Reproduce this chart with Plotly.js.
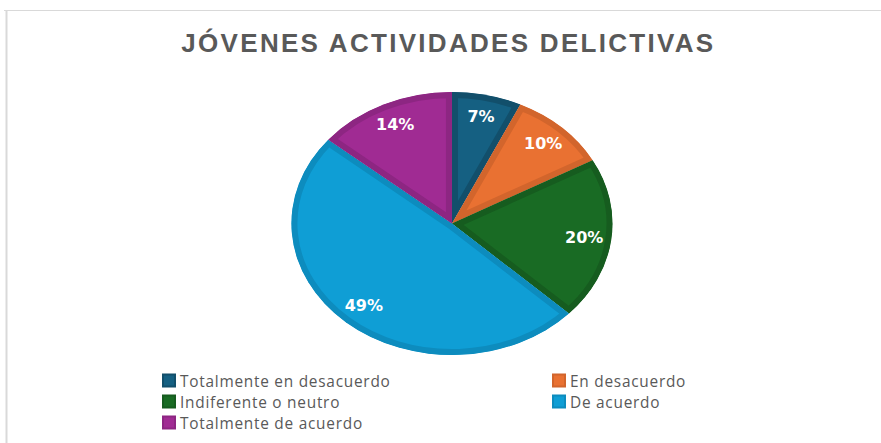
<!DOCTYPE html>
<html>
<head>
<meta charset="utf-8">
<script src="https://cdn.plot.ly/plotly-3.0.1.min.js"></script>
<style>
  html, body { margin: 0; padding: 0; background: #ffffff; }
  #chart { width: 881px; height: 443px; }
  .gtitle { letter-spacing: 2.3px; }
  .legendtext { letter-spacing: 0.75px; }
</style>
</head>
<body>
<div id="chart"></div>
<script>
// ---- data ----
const categories = ['Totalmente en desacuerdo', 'En desacuerdo', 'Indiferente o neutro', 'De acuerdo', 'Totalmente de acuerdo'];
const values = [7, 10, 20, 49, 14];
const fillColors = ['#156082', '#E97132', '#196B24', '#0F9ED5', '#A02B93'];
const lineColors = ['#124F6B', '#D2652C', '#165C1F', '#0D8CBE', '#8D2682'];
const chartTitle = 'JÓVENES ACTIVIDADES DELICTIVAS';

// ---- presentation ----
const W = 881, H = 443;
const SX = 160.5 / 131.5;    // horizontal stretch of the pie (elliptical look)
const LABEL_R = 0.83;        // label radius fraction
const ROW_STEP = 21;         // legend row spacing in px

const gd = document.getElementById('chart');

const data = [{
  type: 'pie',
  labels: categories,
  values: values,
  sort: false,
  direction: 'clockwise',
  rotation: 0,
  marker: { colors: fillColors, line: { color: lineColors, width: 12 } },
  textposition: 'inside',
  insidetextorientation: 'horizontal',
  texttemplate: '%{percent:.0%}',
  textfont: { family: 'DejaVu Sans', size: 16, color: '#ffffff', weight: 700 },
  hoverinfo: 'none',
  domain: { x: [0.2, 0.826], y: [0.1986, 0.7924] }
}];

const layout = {
  width: W, height: H,
  margin: { l: 0, r: 0, t: 0, b: 0, autoexpand: false },
  paper_bgcolor: '#ffffff',
  title: {
    text: chartTitle,
    font: { family: 'Liberation Sans, Arial, sans-serif', size: 26, color: '#595959', weight: 700 },
    x: 0.509, xanchor: 'center', xref: 'container',
    y: 1 - 43 / H, yanchor: 'middle', yref: 'container'
  },
  uniformtext: { minsize: 16, mode: 'show' },
  showlegend: true,
  legend: {
    orientation: 'h',
    x: 140 / W, xanchor: 'left',
    y: 1 - 364 / H, yanchor: 'top',
    entrywidth: 345, entrywidthmode: 'pixels',
    font: { family: 'Open Sans, sans-serif', size: 15.4, color: '#595959' },
    bgcolor: 'rgba(0,0,0,0)',
    traceorder: 'normal'
  },
  shapes: [
    { type: 'line', xref: 'paper', yref: 'paper', x0: 4 / W, x1: 1, y0: 1 - 10.5 / H, y1: 1 - 10.5 / H,
      line: { color: '#D9D9D9', width: 1 } },
    { type: 'line', xref: 'paper', yref: 'paper', x0: 6.5 / W, x1: 6.5 / W, y0: 0, y1: 1 - 10 / H,
      line: { color: '#D9D9D9', width: 2 } }
  ]
};

function parseTranslate(t) {
  const m = /translate\(\s*([-\d.e]+)[ ,]+([-\d.e]+)\s*\)/.exec(t || '');
  return m ? [parseFloat(m[1]), parseFloat(m[2])] : [0, 0];
}

function adjust() {
  const ns = 'http://www.w3.org/2000/svg';
  const cd0 = gd.calcdata[0][0];
  const cx = cd0.cx, cy = cd0.cy, r = cd0.r;
  const svg = gd.querySelector('svg.main-svg');
  let defs = svg.querySelector('defs');
  if (!defs) { defs = document.createElementNS(ns, 'defs'); svg.insertBefore(defs, svg.firstChild); }
  const svgRect = svg.getBoundingClientRect();
  const total = values.reduce((a, b) => a + b, 0);
  let cum = 0;
  const slices = gd.querySelectorAll('.pielayer g.slice');
  slices.forEach((s, i) => {
    const path = s.querySelector('path.surface');
    const tf = 'translate(' + cx + ',' + cy + ') scale(' + SX + ',1) translate(' + (-cx) + ',' + (-cy) + ')';
    path.setAttribute('transform', tf);
    path.style.vectorEffect = 'non-scaling-stroke';
    const cp = document.createElementNS(ns, 'clipPath');
    cp.setAttribute('id', 'sliceclip' + i);
    const p2 = document.createElementNS(ns, 'path');
    p2.setAttribute('d', path.getAttribute('d'));
    cp.appendChild(p2);
    defs.appendChild(cp);
    path.setAttribute('clip-path', 'url(#sliceclip' + i + ')');

    const frac = (cum + values[i] / 2) / total;
    cum += values[i];
    const a = frac * 2 * Math.PI;
    const tx = cx + LABEL_R * r * SX * Math.sin(a);
    const ty = cy - LABEL_R * r * Math.cos(a);
    const tg = s.querySelector('g.slicetext');
    if (tg) {
      const bb = tg.getBoundingClientRect();
      const bx = bb.left + bb.width / 2 - svgRect.left;
      const by = bb.top + bb.height / 2 - svgRect.top;
      tg.setAttribute('transform', 'translate(' + (tx - bx) + ',' + (ty - by) + ')');
    }
  });
  gd.querySelectorAll('.legend path.legendpie').forEach((p, i) => {
    p.style.strokeWidth = '2px';
    p.style.fill = fillColors[i];
    p.style.stroke = lineColors[i];
  });
  gd.querySelectorAll('.legend g.legendpoints').forEach(g => {
    g.setAttribute('transform', 'translate(9,0)');
  });
  // compress legend rows
  const items = Array.from(gd.querySelectorAll('.legend g.traces'));
  const ys = items.map(it => parseTranslate(it.getAttribute('transform'))[1]);
  const uniq = Array.from(new Set(ys)).sort((a, b) => a - b);
  items.forEach((it) => {
    const [x, y] = parseTranslate(it.getAttribute('transform'));
    const row = uniq.indexOf(y);
    it.setAttribute('transform', 'translate(' + x + ',' + (uniq[0] + row * ROW_STEP) + ')');
  });
}

Plotly.newPlot(gd, data, layout, { staticPlot: true, displayModeBar: false }).then(adjust);
</script>
</body>
</html>
